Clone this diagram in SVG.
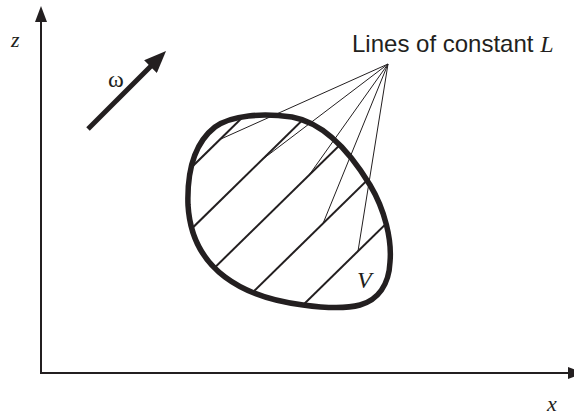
<svg xmlns="http://www.w3.org/2000/svg" width="574" height="416" viewBox="0 0 574 416">
<style>
.axis{stroke:#231f20;stroke-width:2;fill:none}
.blob{stroke:#231f20;stroke-width:5.5;fill:none}
.hatch{stroke:#231f20;stroke-width:2;fill:none}
.fan{stroke:#231f20;stroke-width:1;fill:none}
.omega{stroke:#231f20;stroke-width:5;fill:none}
.sans{font-family:"Liberation Sans",Arial,sans-serif;fill:#231f20}
.ital{font-family:"Liberation Serif","Times New Roman",serif;font-style:italic;fill:#231f20}
.serif{font-family:"Liberation Serif","Times New Roman",serif;fill:#231f20}
</style>
<defs>
<marker id="axisHead" markerUnits="userSpaceOnUse" markerWidth="16" markerHeight="12" viewBox="0 0 16 12" refX="4" refY="6" orient="auto">
<path d="M0,0 L16,6 L0,12 Z" fill="#231f20"/>
</marker>
<marker id="omegaHead" markerUnits="userSpaceOnUse" markerWidth="22" markerHeight="18" viewBox="0 0 22 18" refX="4" refY="9" orient="auto">
<path d="M0,0 L22,9 L0,18 Z" fill="#231f20"/>
</marker>
<path id="blobPath" d="M188,205 C187,175 192,145 215,127 C232,115 262,113 292,117 C325,123 350,152 370,185 C385,210 392,240 390,262 C389,285 378,300 360,305 C345,309 325,308 303,305 C270,301 245,292 225,277 C205,262 190,240 188,205 Z"/>
<clipPath id="blobClip"><use href="#blobPath"/></clipPath>
</defs>
<rect width="574" height="416" fill="#ffffff"/>
<g id="axes">
<line class="axis" x1="41" y1="374" x2="41" y2="18" marker-end="url(#axisHead)"/>
<line class="axis" x1="40" y1="373" x2="572" y2="373" marker-end="url(#axisHead)"/>
<text class="ital" x="11" y="47" font-size="22">z</text>
<text class="ital" x="547" y="411" font-size="22">x</text>
</g>
<g id="omega">
<line class="omega" x1="88" y1="129" x2="153.3" y2="63.7" marker-end="url(#omegaHead)"/>
<text class="serif" x="108" y="87" font-size="24">ω</text>
</g>
<g id="volume">
<g clip-path="url(#blobClip)">
<line class="hatch" x1="180" y1="178.6" x2="290" y2="70.8"/>
<line class="hatch" x1="180" y1="240.1" x2="340" y2="83.3"/>
<line class="hatch" x1="180" y1="301.6" x2="380" y2="105.6"/>
<line class="hatch" x1="200" y1="344" x2="410" y2="138.2"/>
<line class="hatch" x1="250" y1="357" x2="420" y2="190.4"/>
</g>
<use href="#blobPath" class="blob"/>
<text class="ital" x="357" y="288" font-size="24">V</text>
</g>
<g id="connectors">
<line class="fan" x1="388" y1="64" x2="220" y2="139.4"/>
<line class="fan" x1="388" y1="64" x2="262" y2="159.7"/>
<line class="fan" x1="388" y1="64" x2="309" y2="175.2"/>
<line class="fan" x1="388" y1="64" x2="323" y2="223.5"/>
<line class="fan" x1="388" y1="64" x2="358" y2="251.2"/>
</g>
<g id="label">
<text class="sans" x="352" y="52" font-size="24">Lines of constant <tspan class="ital">L</tspan></text>
</g>
</svg>
